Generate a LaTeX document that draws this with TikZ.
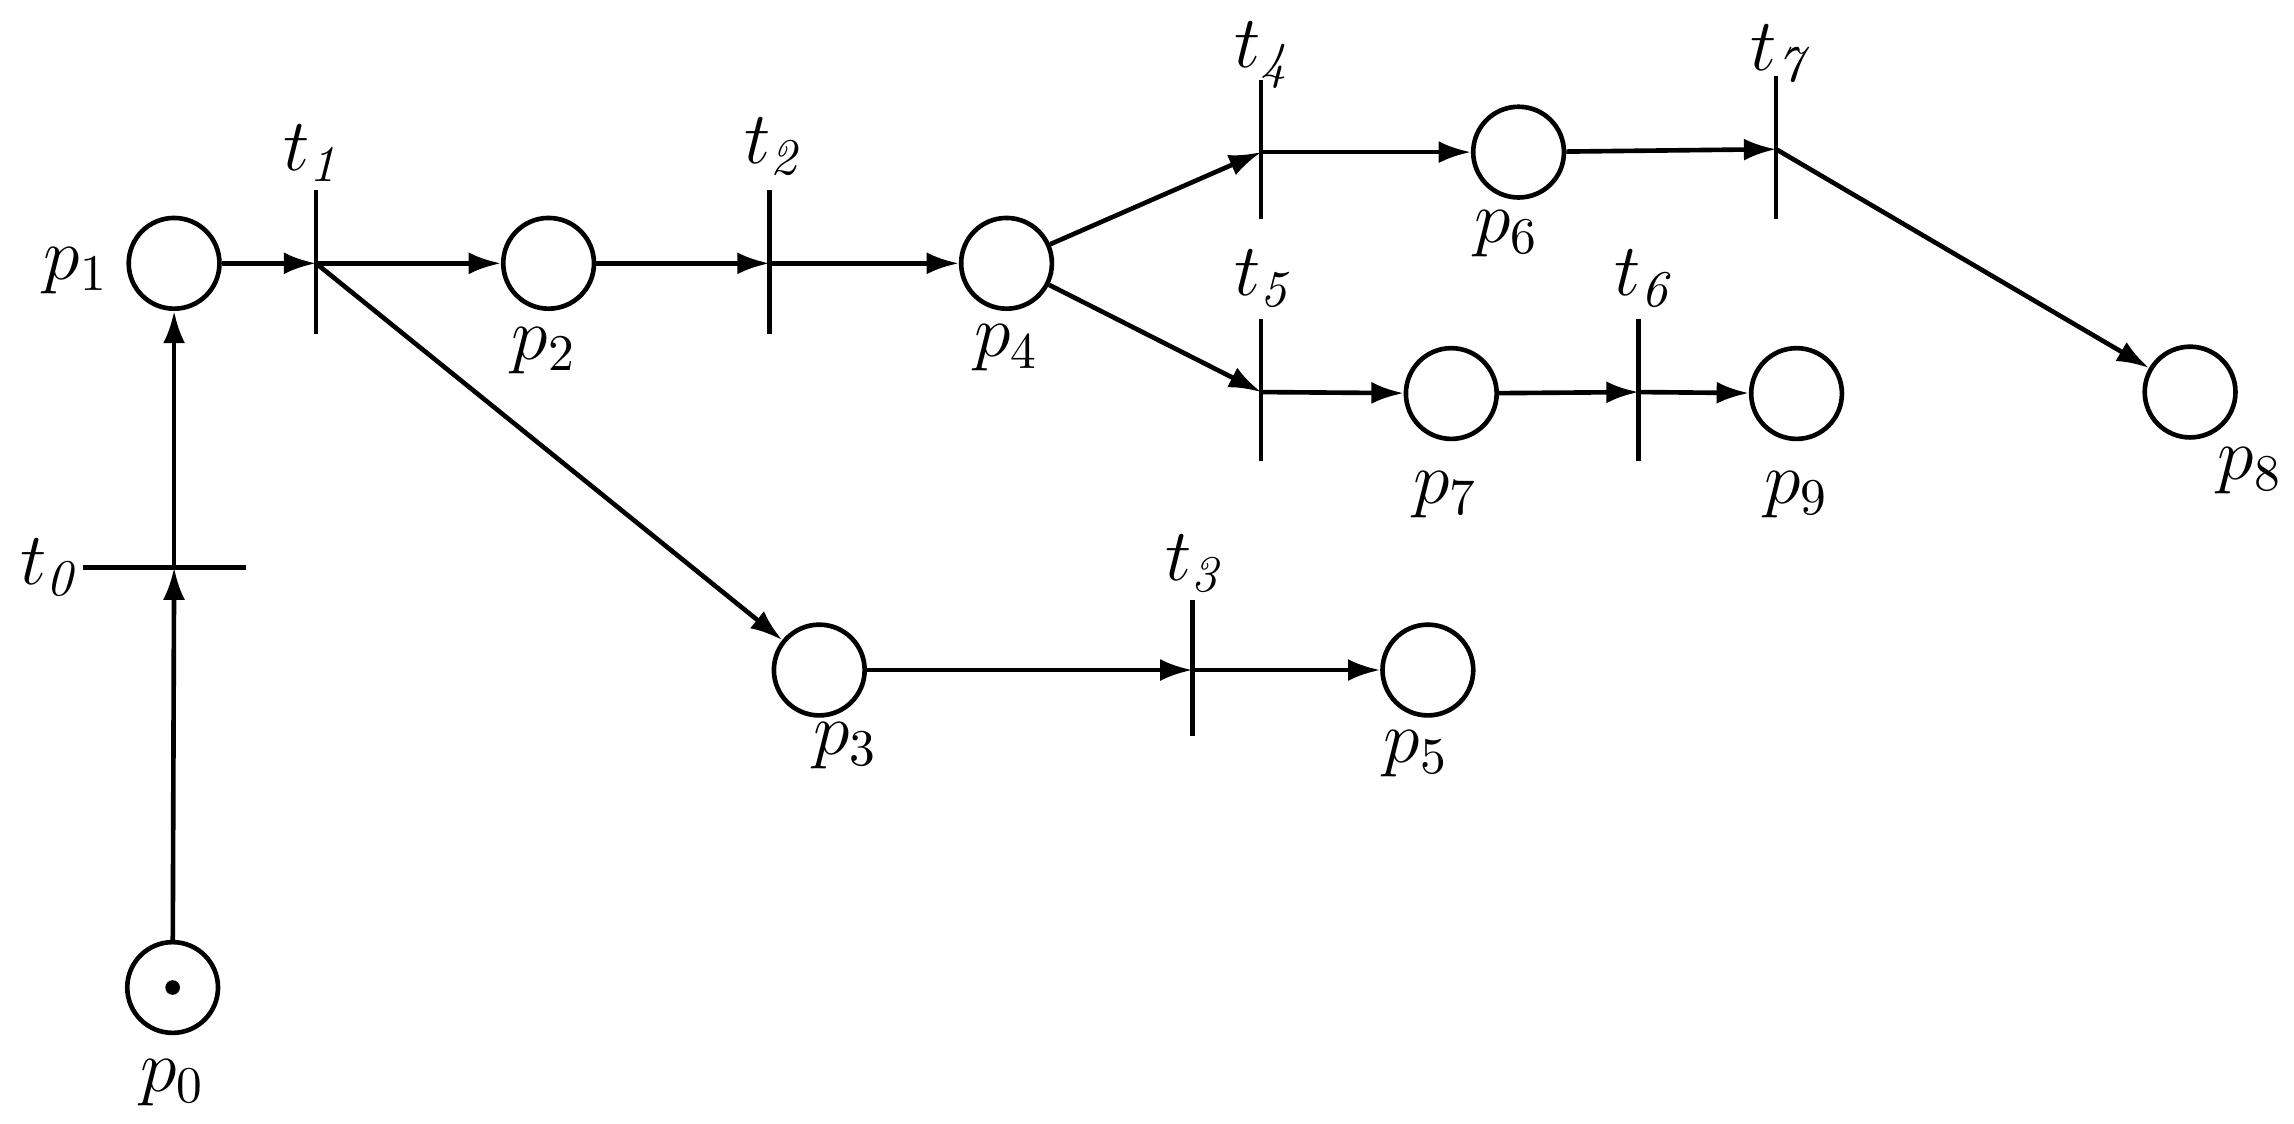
\documentclass[tikz,border=0pt]{standalone}
\usetikzlibrary{arrows.meta}
\begin{document}
\begin{tikzpicture}[x=0.01cm,y=-0.01cm,
  place/.style={circle,draw,line width=0.9pt,minimum size=0.62cm,inner sep=0pt},
  arc/.style={line width=0.9pt,-{Latex[length=0.22cm,width=0.15cm]}},
  bar/.style={line width=0.9pt},
  lab/.style={font=\fontsize{14}{16}\selectfont}]
\useasboundingbox (0,0) rectangle (1568,768);
% places
\node[place] (p0) at (118,675) {};
\fill (p0) circle (0.05cm);
\node[place] (p1) at (119,180) {};
\node[place] (p2) at (375,180) {};
\node[place] (p3) at (560,458) {};
\node[place] (p4) at (688,180) {};
\node[place] (p5) at (976,458) {};
\node[place] (p6) at (1038,104) {};
\node[place] (p7) at (992,269) {};
\node[place] (p8) at (1497,268) {};
\node[place] (p9) at (1228,269) {};
% transitions
\coordinate (t0) at (119,388);
\coordinate (t1) at (216,180);
\coordinate (t2) at (526,180);
\coordinate (t3) at (815,458);
\coordinate (t4) at (862,104);
\coordinate (t5) at (862,268);
\coordinate (t6) at (1120,268);
\coordinate (t7) at (1214,102);
\draw[bar] (57,388) -- (168,388);
\draw[bar] (216,130) -- (216,228);
\draw[bar] (526,130) -- (526,228);
\draw[bar] (815,410) -- (815,503);
\draw[bar] (862,55) -- (862,150);
\draw[bar] (862,218) -- (862,315);
\draw[bar] (1120,218) -- (1120,315);
\draw[bar] (1214,52) -- (1214,150);
% arcs
\draw[arc] (p0) -- (t0);
\draw[arc] (t0) -- (p1);
\draw[arc] (p1) -- (t1);
\draw[arc] (t1) -- (p2);
\draw[arc] (t1) -- (p3);
\draw[arc] (p2) -- (t2);
\draw[arc] (t2) -- (p4);
\draw[arc] (p4) -- (t4);
\draw[arc] (p4) -- (t5);
\draw[arc] (t4) -- (p6);
\draw[arc] (p6) -- (t7);
\draw[arc] (t7) -- (p8);
\draw[arc] (t5) -- (p7);
\draw[arc] (p7) -- (t6);
\draw[arc] (t6) -- (p9);
\draw[arc] (p3) -- (t3);
\draw[arc] (t3) -- (p5);
% labels
\node[lab] (l0) at (118,740) {$p_0$};
\node[lab] (l1) at (52,185) {$p_1$};
\node[lab] (l2) at (372,240) {$p_2$};
\node[lab] (l3) at (578,510) {$p_3$};
\node[lab] (l4) at (688,238) {$p_4$};
\node[lab] (l5) at (968,515) {$p_5$};
\node[lab] (l6) at (1030,160) {$p_6$};
\node[lab] (l7) at (988,338) {$p_7$};
\node[lab] (l8) at (1538,322) {$p_8$};
\node[lab] (l9) at (1228,338) {$p_9$};
\node[lab] (m0) at (35,388) {$t_{\mathit{0}}$};
\node[lab] (m1) at (215,105) {$t_{\mathit{1}}$};
\node[lab] (m2) at (530,100) {$t_{\mathit{2}}$};
\node[lab] (m3) at (818,385) {$t_{\mathit{3}}$};
\node[lab] (m4) at (865,38) {$t_{\mathit{4}}$};
\node[lab] (m5) at (865,190) {$t_{\mathit{5}}$};
\node[lab] (m6) at (1125,190) {$t_{\mathit{6}}$};
\node[lab] (m7) at (1218,40) {$t_{\mathit{7}}$};
\end{tikzpicture}
\end{document}
